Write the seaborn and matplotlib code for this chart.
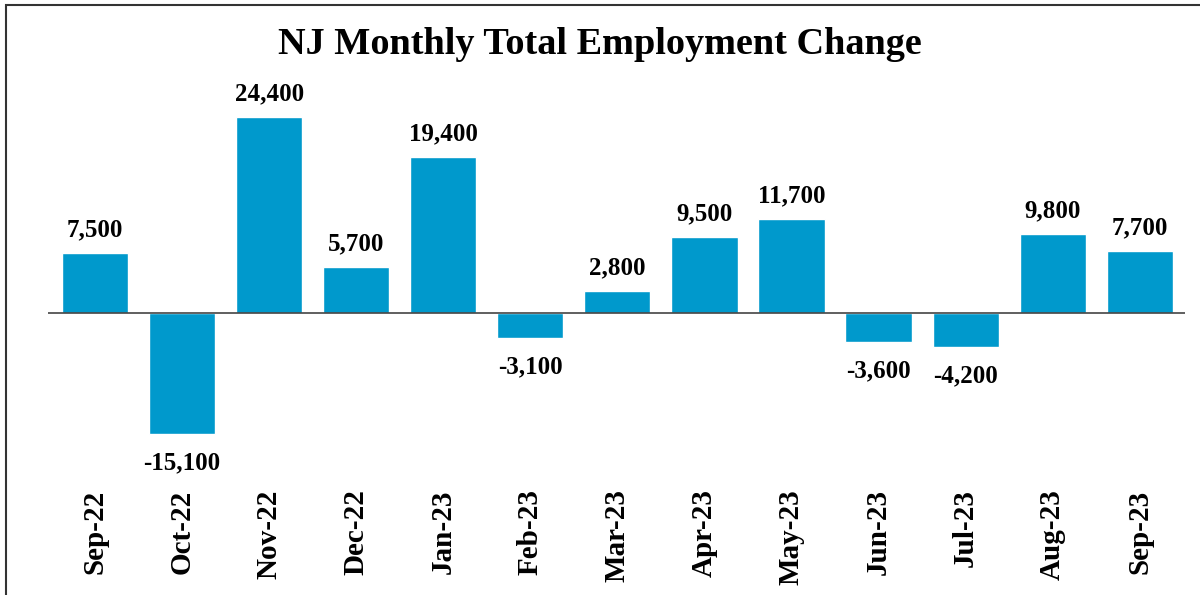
import matplotlib
matplotlib.use('Agg')
import matplotlib.pyplot as plt
from matplotlib.patches import Rectangle
import seaborn as sns

months = ['Sep-22', 'Oct-22', 'Nov-22', 'Dec-22', 'Jan-23', 'Feb-23', 'Mar-23',
          'Apr-23', 'May-23', 'Jun-23', 'Jul-23', 'Aug-23', 'Sep-23']
changes = [7500, -15100, 24400, 5700, 19400, -3100, 2800,
           9500, 11700, -3600, -4200, 9800, 7700]

sns.set_style('white')
plt.rcParams['font.family'] = ['Liberation Serif', 'DejaVu Serif']
plt.rcParams['text.color'] = 'black'
plt.rcParams['xtick.color'] = 'black'

fig = plt.figure(figsize=(12, 5.95), dpi=100)
ax = fig.add_axes([48/1200, 1 - 470/595, (1185 - 48)/1200, (470 - 90)/595])

sns.barplot(x=months, y=changes, color='#0099CC', saturation=1, width=0.76, ax=ax)
ax.set_xlim(-0.54, 12.52)
ax.set_ylim(-19550, 27770)
ax.axhline(0, color='#444444', linewidth=1.2, zorder=5)

# value labels above / below each bar
for i, v in enumerate(changes):
    if v >= 0:
        ax.text(i, v + 1450, f"{v:,}", ha='center', va='bottom',
                fontsize=18, fontweight='bold')
    else:
        ax.text(i, v - 2150, f"{v:,}", ha='center', va='top',
                fontsize=18, fontweight='bold')

ax.set_yticks([])
ax.tick_params(axis='x', length=0, pad=14)
for lbl in ax.get_xticklabels():
    lbl.set_rotation(90)
    lbl.set_fontsize(21)
    lbl.set_fontweight('bold')
for s in ax.spines.values():
    s.set_visible(False)

fig.suptitle('NJ Monthly Total Employment Change', fontsize=27.5,
             fontweight='bold', y=1 - 27/595, va='top')

fig.patches.append(Rectangle((6/1200, -0.1), 1.2, 0.1 + 1 - 5/595,
                             transform=fig.transFigure, fill=False,
                             edgecolor='#333333', linewidth=1.5))

fig.savefig('out.png', dpi=100)
